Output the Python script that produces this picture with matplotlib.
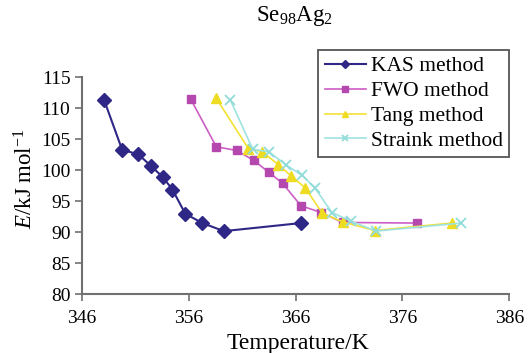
import matplotlib
matplotlib.use('Agg')
import matplotlib.pyplot as plt

plt.rcParams['font.family'] = 'Liberation Serif'
plt.rcParams['mathtext.fontset'] = 'custom'
plt.rcParams['mathtext.rm'] = 'Liberation Serif'
plt.rcParams['mathtext.it'] = 'Liberation Serif:italic'

# activation energy vs temperature for each isoconversional method
kas_T = [348.1, 349.8, 351.3, 352.5, 353.6, 354.5, 355.7, 357.3, 359.3, 366.5]
kas_E = [111.4, 103.3, 102.6, 100.7, 98.9, 96.9, 93.0, 91.5, 90.2, 91.5]

fwo_T = [356.2, 358.6, 360.5, 362.1, 363.5, 364.8, 366.5, 368.4, 370.4, 377.4]
fwo_E = [111.5, 103.8, 103.2, 101.6, 99.7, 97.9, 94.3, 93.2, 91.6, 91.5]

tang_T = [358.6, 361.6, 362.9, 364.4, 365.6, 366.9, 368.5, 370.4, 373.4, 380.6]
tang_E = [111.6, 103.5, 103.0, 100.9, 99.1, 97.2, 93.1, 91.7, 90.3, 91.5]

str_T = [359.9, 362.0, 363.5, 365.1, 366.6, 367.8, 369.4, 371.2, 373.5, 381.5]
str_E = [111.4, 103.4, 103.0, 100.9, 99.2, 97.2, 93.2, 91.8, 90.2, 91.5]

xticks = [346, 356, 366, 376, 386]
yticks = [80, 85, 90, 95, 100, 105, 110, 115]

fig = plt.figure(figsize=(5.31, 3.53), dpi=100)
ax = fig.add_axes([0.1535, 0.166, 0.806, 0.615])

ax.plot(kas_T, kas_E, color='#2f2785', lw=1.5, marker='D', ms=7,
        mfc='#2f2785', mec='#2f2785', label='KAS method')
ax.plot(fwo_T, fwo_E, color='#cc5ec6', lw=1.2, marker='s', ms=6.2,
        mfc='#b548ae', mec='#b548ae', label='FWO method')
ax.plot(tang_T, tang_E, color='#f2e233', lw=1.2, marker='^', ms=7.5,
        mfc='#eedc22', mec='#eedc22', label='Tang method')
ax.plot(str_T, str_E, color='#9ee3e0', lw=1.2, marker='x', ms=7, mew=1.3,
        mfc='#8fdcd8', mec='#8fdcd8', label='Straink method')

ax.set_xlim(346, 386)
ax.set_ylim(80, 115)
ax.set_xticks(xticks)
ax.set_yticks(yticks)

for s in ['top', 'right']:
    ax.spines[s].set_visible(False)
for s in ['left', 'bottom']:
    ax.spines[s].set_color('#707070')
    ax.spines[s].set_linewidth(1.5)
ax.tick_params(direction='out', length=5, width=1.2, color='#707070',
               labelsize=14)
ax.tick_params(axis='x', pad=6)
ax.tick_params(axis='y', pad=3)

ax.set_xlabel('Temperature/K', fontsize=17)
ax.xaxis.set_label_coords(0.505, -0.178)
ax.set_ylabel(r'$E$/kJ mol$^{-1}$', fontsize=16.5)
ax.yaxis.set_label_coords(-0.102, 0.535)
fig.text(0.555, 0.955, r'Se$_{98}$Ag$_2$', fontsize=16.5, ha='center', va='center')

leg = ax.legend(loc='upper right', bbox_to_anchor=(1.0, 1.126),
                borderaxespad=0, fontsize=15.5,
                fancybox=False, framealpha=1, edgecolor='#555555',
                borderpad=0.3, labelspacing=0.22, handlelength=1.9,
                handletextpad=0.25, markerscale=0.6)
leg.get_frame().set_linewidth(1.3)

fig.savefig('out.png', dpi=100)
